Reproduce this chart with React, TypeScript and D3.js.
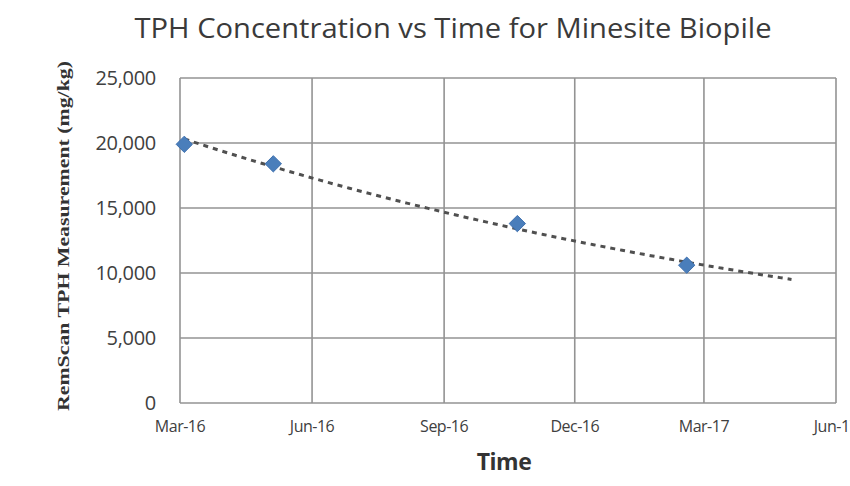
import { useEffect, useRef } from 'react'
import * as d3 from 'd3'

// sample dates and RemScan readings (mg/kg)
const sampleDates = ['2016-03-04', '2016-05-05', '2016-10-22', '2017-02-17']
const tphValues = [19900, 18400, 13800, 10600]

const yTicks = [0, 5000, 10000, 15000, 20000, 25000]
const xTickDates = ['2016-03-01', '2016-06-01', '2016-09-01', '2016-12-01', '2017-03-01', '2017-06-01']
const xTickLabels = ['Mar-16', 'Jun-16', 'Sep-16', 'Dec-16', 'Mar-17', 'Jun-17']
const trendEnd = '2017-05-01'

export default function App() {
  const svgRef = useRef<SVGSVGElement>(null)

  useEffect(() => {
    if (!svgRef.current) return
    const svg = d3.select(svgRef.current)
    svg.selectAll('*').remove()

    const width = 850
    const height = 486
    const margin = { top: 78, right: 14, bottom: 83, left: 180 }
    const parse = d3.timeParse('%Y-%m-%d')

    const x = d3.scaleTime()
      .domain([parse(xTickDates[0])!, parse(xTickDates[xTickDates.length - 1])!])
      .range([margin.left, width - margin.right])
    const y = d3.scaleLinear()
      .domain([0, 25000])
      .range([height - margin.bottom, margin.top])

    svg.append('rect').attr('width', width).attr('height', height).attr('fill', '#fff')

    const font = "'Open Sans', 'Noto Sans', sans-serif"

    svg.append('text')
      .attr('x', 453).attr('y', 38)
      .attr('text-anchor', 'middle')
      .attr('font-family', font)
      .attr('font-size', 28)
      .attr('fill', '#3a3a3a')
      .attr('textLength', 637)
      .attr('lengthAdjust', 'spacingAndGlyphs')
      .text('TPH Concentration vs Time for Minesite Biopile')

    const grid = svg.append('g').attr('stroke', '#939393').attr('stroke-width', 1.6)
    yTicks.forEach(t => {
      grid.append('line')
        .attr('x1', x.range()[0]).attr('x2', x.range()[1])
        .attr('y1', y(t)).attr('y2', y(t))
    })
    xTickDates.forEach(d => {
      const xp = x(parse(d)!)
      grid.append('line')
        .attr('x1', xp).attr('x2', xp)
        .attr('y1', y.range()[0]).attr('y2', y.range()[1])
    })

    svg.append('g')
      .selectAll('text')
      .data(yTicks)
      .join('text')
      .attr('x', 156)
      .attr('y', d => y(d) + 7)
      .attr('text-anchor', 'end')
      .attr('font-family', font)
      .attr('font-size', 20)
      .attr('fill', '#404040')
      .attr('letter-spacing', -0.3)
      .text(d => d3.format(',')(d))

    svg.append('g')
      .selectAll('text')
      .data(xTickDates)
      .join('text')
      .attr('x', d => x(parse(d)!))
      .attr('y', 432)
      .attr('text-anchor', 'middle')
      .attr('font-family', font)
      .attr('font-size', 16)
      .attr('fill', '#404040')
      .attr('letter-spacing', -0.5)
      .text((_, i) => xTickLabels[i])

    svg.append('text')
      .attr('x', 504).attr('y', 470)
      .attr('text-anchor', 'middle')
      .attr('font-family', font)
      .attr('font-weight', 'bold')
      .attr('font-size', 23)
      .attr('fill', '#333')
      .attr('letter-spacing', -0.5)
      .text('Time')

    svg.append('text')
      .attr('transform', 'translate(69,236) rotate(-90)')
      .attr('text-anchor', 'middle')
      .attr('font-family', "'Liberation Serif', 'DejaVu Serif', serif")
      .attr('font-weight', 'bold')
      .attr('font-size', 17)
      .attr('fill', '#333')
      .attr('textLength', 350)
      .attr('lengthAdjust', 'spacingAndGlyphs')
      .text('RemScan TPH Measurement (mg/kg)')

    // exponential trendline fitted on the samples
    const t0 = parse(sampleDates[0])!.getTime()
    const days = sampleDates.map(d => (parse(d)!.getTime() - t0) / 86400000)
    const logs = tphValues.map(v => Math.log(v))
    const mx = d3.mean(days)!
    const my = d3.mean(logs)!
    const b = d3.sum(days, (d, i) => (d - mx) * (logs[i] - my)) / d3.sum(days, d => (d - mx) ** 2)
    const a = my - b * mx
    const endDay = (parse(trendEnd)!.getTime() - t0) / 86400000
    const trendDays = d3.range(0, endDay, 5).concat([endDay])

    svg.append('path')
      .datum(trendDays)
      .attr('fill', 'none')
      .attr('stroke', '#505050')
      .attr('stroke-width', 3)
      .attr('stroke-dasharray', '5,5')
      .attr('d', d3.line<number>()
        .x(d => x(new Date(t0 + d * 86400000)))
        .y(d => y(Math.exp(a + b * d))))

    svg.append('g')
      .selectAll('path')
      .data(sampleDates)
      .join('path')
      .attr('transform', (d, i) => `translate(${x(parse(d)!)},${y(tphValues[i])})`)
      .attr('d', d3.symbol().type(d3.symbolDiamond2).size(170)())
      .attr('fill', '#4a7ebb')
      .attr('stroke', '#3d6fae')
      .attr('stroke-width', 1)
  }, [])

  return <svg ref={svgRef} width={850} height={486} style={{ display: 'block', position: 'absolute', left: 0, top: 0 }} />
}
